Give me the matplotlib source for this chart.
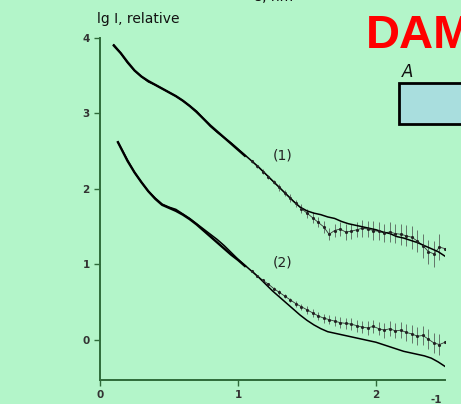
import matplotlib
matplotlib.use('Agg')
import matplotlib.pyplot as plt
from matplotlib.patches import Rectangle

bg = '#b3f5c9'
axcol = '#2f6b3a'

# fitted curves
s_fit1 = [0.10, 0.15, 0.20, 0.25, 0.30, 0.35, 0.40, 0.45, 0.50, 0.55, 0.60, 0.65,
          0.70, 0.75, 0.80, 0.85, 0.90, 0.95, 1.00, 1.05, 1.10, 1.15, 1.20, 1.25,
          1.30, 1.35, 1.40, 1.45, 1.50, 1.55, 1.60, 1.65, 1.70, 1.75, 1.80, 1.85,
          1.90, 1.95, 2.00, 2.05, 2.10, 2.15, 2.20, 2.25, 2.30, 2.35, 2.40, 2.45, 2.50]
fit1 = [3.91, 3.80, 3.67, 3.57, 3.49, 3.42, 3.38, 3.33, 3.28, 3.23, 3.17, 3.10,
        3.03, 2.93, 2.83, 2.75, 2.68, 2.61, 2.53, 2.45, 2.37, 2.29, 2.20, 2.11,
        2.02, 1.93, 1.84, 1.76, 1.71, 1.68, 1.66, 1.63, 1.61, 1.57, 1.54, 1.52,
        1.50, 1.48, 1.46, 1.43, 1.41, 1.37, 1.35, 1.32, 1.29, 1.25, 1.21, 1.17, 1.11]

s_fit2 = [0.13, 0.20, 0.25, 0.30, 0.35, 0.40, 0.45, 0.50, 0.55, 0.60, 0.65,
          0.70, 0.75, 0.80, 0.85, 0.90, 0.95, 1.00, 1.05, 1.10, 1.15, 1.20, 1.25,
          1.30, 1.35, 1.40, 1.45, 1.50, 1.55, 1.60, 1.65, 1.70, 1.75, 1.80, 1.85,
          1.90, 1.95, 2.00, 2.05, 2.10, 2.15, 2.20, 2.25, 2.30, 2.35, 2.40, 2.45, 2.50]
fit2 = [2.62, 2.38, 2.22, 2.09, 1.97, 1.88, 1.80, 1.76, 1.73, 1.67, 1.61,
        1.54, 1.47, 1.40, 1.33, 1.25, 1.16, 1.07, 0.99, 0.91, 0.83, 0.74, 0.65,
        0.57, 0.49, 0.41, 0.33, 0.26, 0.20, 0.15, 0.11, 0.09, 0.07, 0.05, 0.03,
        0.01, -0.01, -0.03, -0.06, -0.09, -0.12, -0.15, -0.17, -0.19, -0.21, -0.24, -0.29, -0.35]

# experimental data, low angles
s_lo1 = [0.10, 0.15, 0.20, 0.25, 0.30, 0.35, 0.40, 0.45, 0.50, 0.55, 0.60, 0.65,
         0.70, 0.75, 0.80, 0.85, 0.90, 0.95, 1.00, 1.05]
exp1_lo = [3.90, 3.80, 3.68, 3.57, 3.49, 3.43, 3.38, 3.33, 3.28, 3.23, 3.17, 3.10,
           3.02, 2.93, 2.84, 2.76, 2.68, 2.60, 2.52, 2.44]
s_lo2 = [0.13, 0.20, 0.25, 0.30, 0.35, 0.40, 0.45, 0.50, 0.55, 0.60, 0.65,
         0.70, 0.75, 0.80, 0.85, 0.90, 0.95, 1.00, 1.05]
exp2_lo = [2.62, 2.37, 2.22, 2.09, 1.97, 1.87, 1.79, 1.75, 1.71, 1.66, 1.60,
           1.53, 1.45, 1.37, 1.29, 1.21, 1.13, 1.06, 0.98]

# experimental data with error bars, higher angles
s_hi = [1.10, 1.14, 1.18, 1.22, 1.26, 1.30, 1.34, 1.38, 1.42, 1.46, 1.50, 1.54,
        1.58, 1.62, 1.66, 1.70, 1.74, 1.78, 1.82, 1.86, 1.90, 1.94, 1.98, 2.02,
        2.06, 2.10, 2.14, 2.18, 2.22, 2.26, 2.30, 2.34, 2.38, 2.42, 2.46, 2.50]
exp1_hi = [2.37, 2.30, 2.23, 2.16, 2.09, 2.02, 1.95, 1.88, 1.81, 1.74, 1.68, 1.62,
           1.56, 1.50, 1.40, 1.45, 1.47, 1.43, 1.44, 1.46, 1.48, 1.47, 1.45, 1.44,
           1.42, 1.43, 1.41, 1.40, 1.38, 1.36, 1.31, 1.25, 1.17, 1.14, 1.23, 1.21]
err1_hi = [0.02, 0.02, 0.03, 0.03, 0.03, 0.04, 0.04, 0.05, 0.05, 0.06, 0.06, 0.07,
           0.07, 0.08, 0.08, 0.09, 0.09, 0.10, 0.10, 0.10, 0.11, 0.11, 0.12, 0.12,
           0.12, 0.13, 0.13, 0.14, 0.14, 0.15, 0.15, 0.16, 0.16, 0.17, 0.17, 0.18]
exp2_hi = [0.92, 0.85, 0.79, 0.74, 0.68, 0.63, 0.58, 0.53, 0.48, 0.44, 0.40, 0.36,
           0.32, 0.29, 0.27, 0.25, 0.23, 0.22, 0.21, 0.19, 0.17, 0.16, 0.18, 0.15,
           0.13, 0.15, 0.12, 0.13, 0.10, 0.08, 0.05, 0.06, 0.01, -0.04, -0.06, -0.03]
err2_hi = [0.01, 0.01, 0.02, 0.02, 0.02, 0.03, 0.03, 0.03, 0.04, 0.04, 0.05, 0.05,
           0.05, 0.06, 0.06, 0.07, 0.07, 0.07, 0.08, 0.08, 0.08, 0.09, 0.09, 0.09,
           0.10, 0.10, 0.10, 0.11, 0.11, 0.12, 0.12, 0.12, 0.13, 0.13, 0.14, 0.15]

fig = plt.figure(figsize=(4.61, 4.04), dpi=100, facecolor=bg)
ax = fig.add_axes([100/461, 1-380/404, 345/461, 342/404])
ax.set_facecolor(bg)

for s_lo, e_lo, e_hi, err, s_f, f in [(s_lo1, exp1_lo, exp1_hi, err1_hi, s_fit1, fit1),
                                      (s_lo2, exp2_lo, exp2_hi, err2_hi, s_fit2, fit2)]:
    ax.plot(s_lo, e_lo, color='black', lw=1.7)
    ax.errorbar(s_hi, e_hi, yerr=err, fmt='.', ms=2.5, color='#222222',
                ecolor='#444444', elinewidth=0.5, capsize=0)
    ax.plot(s_hi, e_hi, color='#333333', lw=0.6)
    ax.plot(s_f, f, color='black', lw=1.1)

ax.set_xlim(0, 2.5)
ax.set_ylim(-0.53, 4.0)
for sp in ['top', 'right']:
    ax.spines[sp].set_visible(False)
for sp in ['left', 'bottom']:
    ax.spines[sp].set_color(axcol)
    ax.spines[sp].set_linewidth(1.4)
ax.set_xticks([0, 1, 2])
ax.set_yticks([0, 1, 2, 3, 4])
ax.tick_params(colors=axcol, labelcolor='#333333', length=4, width=1, labelsize=7.5)
for lab in ax.get_xticklabels() + ax.get_yticklabels():
    lab.set_fontweight('bold')

ax.text(1.25, 2.45, '(1)', fontsize=10, color='#222222', va='center')
ax.text(1.25, 1.03, '(2)', fontsize=10, color='#222222', va='center')

fig.text(97/461, 1-19/404, 'lg I, relative', fontsize=10, va='center', color='#111111')
fig.text(255/461, 1+3/404, 's, nm', fontsize=10, va='center', color='#111111')
fig.text(430/461, 1-400/404, '-1', fontsize=7.5, fontweight='bold', va='center', color='#333333')
fig.text(366/461, 1-36/404, 'DAM', fontsize=34, fontweight='bold', color='#ff0000',
         va='center', family='Liberation Sans')
fig.text(402/461, 1-72/404, 'A', fontsize=12, style='italic', va='center', color='#111111')
fig.patches.append(Rectangle((399/461, 1-124/404), 80/461, 41/404, transform=fig.transFigure,
                             facecolor='#a9dede', edgecolor='black', lw=2))

fig.savefig('out.png', dpi=100, facecolor=bg)
